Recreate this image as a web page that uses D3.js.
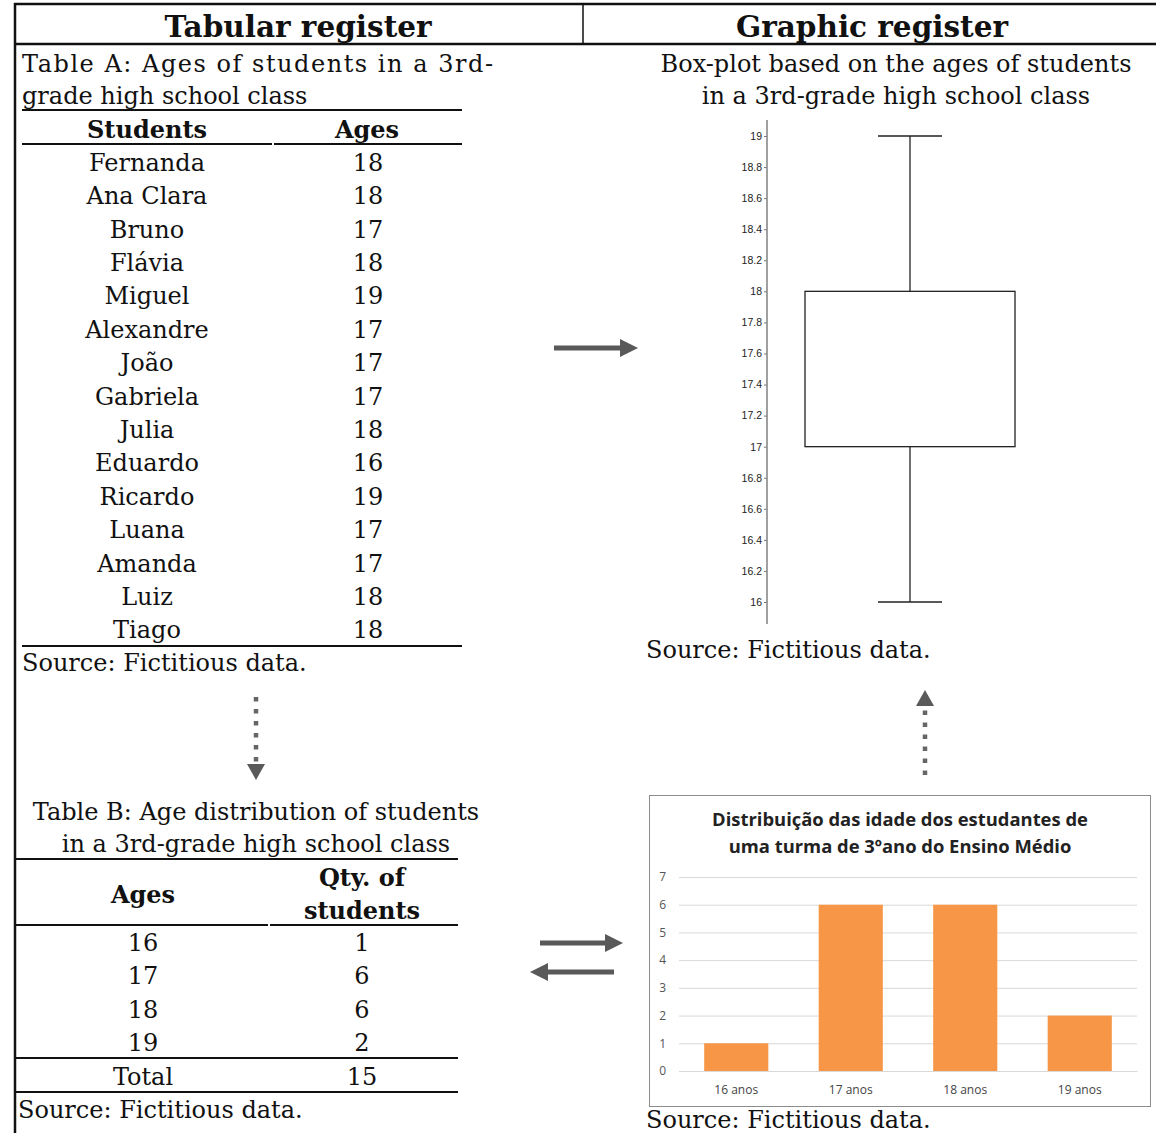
<!DOCTYPE html>
<html>
<head>
<meta charset="utf-8">
<script src="https://cdn.jsdelivr.net/npm/d3@7/dist/d3.min.js"></script>
<style>
  html, body { margin: 0; padding: 0; background: #fff; }
  svg { display: block; }
</style>
</head>
<body>
<script>
// ---------- DATA ----------
const students = ["Fernanda","Ana Clara","Bruno","Flávia","Miguel","Alexandre","João","Gabriela","Julia","Eduardo","Ricardo","Luana","Amanda","Luiz","Tiago"];
const studentAges = [18,18,17,18,19,17,17,17,18,16,19,17,17,18,18];
const distAges = [16,17,18,19];
const distCounts = [1,6,6,2];
const distTotal = 15;
const barCategories = ["16 anos","17 anos","18 anos","19 anos"];
const barValues = [1,6,6,2];
const barTicks = [0,1,2,3,4,5,6,7];
const boxTicks = [16,16.2,16.4,16.6,16.8,17,17.2,17.4,17.6,17.8,18,18.2,18.4,18.6,18.8,19];

const W = 1156, H = 1133;
const SERIF = "'DejaVu Serif', serif";
const fs = 24;
const svg = d3.select("body").append("svg").attr("width", W).attr("height", H);

function txt(x, y, s, opts = {}) {
  const t = svg.append("text").attr("x", x).attr("y", y).text(s)
    .attr("font-family", opts.family || SERIF)
    .attr("font-size", opts.size || fs)
    .attr("font-weight", opts.bold ? "bold" : "normal")
    .attr("text-anchor", opts.anchor || "start")
    .attr("fill", opts.fill || "#111");
  if (opts.len) t.attr("textLength", opts.len).attr("lengthAdjust", "spacing");
  return t;
}
function hline(x1, x2, y, w = 2, c = "#111") {
  svg.append("line").attr("x1", x1).attr("x2", x2).attr("y1", y).attr("y2", y)
    .attr("stroke", c).attr("stroke-width", w);
}
function vline(x, y1, y2, w = 2, c = "#111") {
  svg.append("line").attr("x1", x).attr("x2", x).attr("y1", y1).attr("y2", y2)
    .attr("stroke", c).attr("stroke-width", w);
}

// ---------- Frame ----------
hline(14, W, 4, 2.5);
hline(14, W, 44, 2.5);
vline(15, 3, H, 2.5);
vline(583, 3, 44, 1.5);
txt(298, 37, "Tabular register", {bold: true, size: 29.5, anchor: "middle"});
txt(872, 37, "Graphic register", {bold: true, size: 29.5, anchor: "middle"});

// ---------- Table A ----------
txt(22, 72, "Table A: Ages of students in a 3rd-", {len: 471});
txt(22, 104, "grade high school class");
hline(22, 462, 110, 1.8);
txt(147, 138, "Students", {bold: true, anchor: "middle"});
txt(367, 138, "Ages", {bold: true, anchor: "middle"});
hline(22, 272, 144, 1.8);
hline(274, 462, 144, 1.8);
const rowA = d3.scaleBand().domain(d3.range(students.length)).range([146, 647]);
students.forEach((s, i) => {
  const cy = rowA(i) + rowA.bandwidth() / 2;
  txt(147, cy + 8, s, {anchor: "middle"});
  txt(368, cy + 8, String(studentAges[i]), {anchor: "middle"});
});
hline(22, 462, 646, 1.8);
txt(22, 671, "Source: Fictitious data.");

// ---------- arrows ----------
const ARROW = "#595959";
function solidArrow(x1, x2, y) {
  const dir = x2 > x1 ? 1 : -1;
  const head = 18;
  svg.append("line").attr("x1", x1).attr("x2", x2 - dir * head).attr("y1", y).attr("y2", y)
    .attr("stroke", ARROW).attr("stroke-width", 5);
  svg.append("path").attr("d", `M${x2},${y} L${x2 - dir * head},${y - 9} L${x2 - dir * head},${y + 9} Z`).attr("fill", ARROW);
}
function dottedArrow(x, y1, y2) {
  const dir = y2 > y1 ? 1 : -1;
  const head = 16;
  svg.append("line").attr("x1", x).attr("x2", x).attr("y1", y1).attr("y2", y2 - dir * head)
    .attr("stroke", "#666").attr("stroke-width", 4.5).attr("stroke-dasharray", "4.5,7.5");
  svg.append("path").attr("d", `M${x},${y2} L${x - 9},${y2 - dir * head} L${x + 9},${y2 - dir * head} Z`).attr("fill", "#5a5a5a");
}
solidArrow(554, 638, 348);
solidArrow(540, 623, 943);
solidArrow(614, 530, 972);
dottedArrow(256, 697, 780);
dottedArrow(925, 775, 690);

// ---------- Box plot ----------
txt(896, 72, "Box-plot based on the ages of students", {anchor: "middle"});
txt(896, 104, "in a 3rd-grade high school class", {anchor: "middle"});
const by = d3.scaleLinear().domain([16, 19]).range([602, 136]);
const axisG = svg.append("g").attr("transform", "translate(767,0)")
  .call(d3.axisLeft(by).tickValues(boxTicks).tickSize(3).tickSizeOuter(0).tickFormat(d => d3.format("~g")(+d.toFixed(1))));
axisG.select(".domain").remove();
axisG.selectAll(".tick line").attr("stroke", "#777");
axisG.selectAll("text").attr("font-family", "'Liberation Sans', Arial, sans-serif").attr("font-size", 10.5).attr("fill", "#222").attr("dx", 1);
vline(767, 120, 624, 1.6, "#888");
const sorted = studentAges.slice().sort(d3.ascending);
const q1 = d3.quantile(sorted, 0.25), q3 = d3.quantile(sorted, 0.75);
const mn = d3.min(sorted), mx = d3.max(sorted);
const bx0 = 805, bx1 = 1015, bxm = 910, capw = 32;
svg.append("rect").attr("x", bx0).attr("y", by(q3)).attr("width", bx1 - bx0).attr("height", by(q1) - by(q3))
  .attr("fill", "none").attr("stroke", "#222").attr("stroke-width", 1.3);
vline(bxm, by(mx), by(q3), 1.3, "#222");
vline(bxm, by(q1), by(mn), 1.3, "#222");
hline(bxm - capw, bxm + capw, by(mx), 1.3, "#222");
hline(bxm - capw, bxm + capw, by(mn), 1.3, "#222");
txt(646, 658, "Source: Fictitious data.");

// ---------- Table B ----------
txt(256, 820, "Table B: Age distribution of students", {anchor: "middle"});
txt(256, 852, "in a 3rd-grade high school class", {anchor: "middle"});
hline(15, 458, 859, 1.8);
txt(143, 903, "Ages", {bold: true, anchor: "middle"});
txt(362, 886, "Qty. of", {bold: true, anchor: "middle"});
txt(362, 919, "students", {bold: true, anchor: "middle"});
hline(15, 268, 925, 1.8);
hline(270, 458, 925, 1.8);
const rowB = d3.scaleBand().domain(d3.range(distAges.length)).range([926, 1060]);
distAges.forEach((a, i) => {
  const cy = rowB(i) + rowB.bandwidth() / 2;
  txt(143, cy + 8, String(a), {anchor: "middle"});
  txt(362, cy + 8, String(distCounts[i]), {anchor: "middle"});
});
hline(15, 458, 1058, 1.8);
txt(143, 1085, "Total", {anchor: "middle"});
txt(362, 1085, String(distTotal), {anchor: "middle"});
hline(15, 458, 1092, 1.8);
txt(18, 1118, "Source: Fictitious data.");

// ---------- Bar chart ----------
svg.append("rect").attr("x", 649.5).attr("y", 795.5).attr("width", 501).attr("height", 311)
  .attr("fill", "#fff").attr("stroke", "#8c8c8c").attr("stroke-width", 1);
const SANS = "'Open Sans', 'Noto Sans', sans-serif";
txt(900, 826, "Distribuição das idade dos estudantes de", {family: SANS, bold: true, size: 18.4, anchor: "middle", fill: "#222"});
txt(900, 853, "uma turma de 3ºano do Ensino Médio", {family: SANS, bold: true, size: 18.4, anchor: "middle", fill: "#222"});
const xb = d3.scaleBand().domain(barCategories).range([679, 1137]).paddingInner(0.44).paddingOuter(0.22);
const yb = d3.scaleLinear().domain([0, 7]).range([1071, 877]);
const gy = svg.append("g").attr("transform", "translate(679,0)")
  .call(d3.axisLeft(yb).tickValues(barTicks).tickSize(-458).tickPadding(13).tickFormat(d3.format("d")));
gy.select(".domain").remove();
gy.selectAll(".tick line").attr("stroke", "#d9d9d9").attr("stroke-width", 1);
gy.selectAll("text").attr("font-family", SANS).attr("font-size", 12).attr("fill", "#555");
svg.selectAll("rect.bar").data(barValues).enter().append("rect").attr("class", "bar")
  .attr("x", (d, i) => xb(barCategories[i])).attr("y", d => yb(d))
  .attr("width", xb.bandwidth()).attr("height", d => yb(0) - yb(d))
  .attr("fill", "#F79646");
const gx = svg.append("g").attr("transform", "translate(0,1071)")
  .call(d3.axisBottom(xb).tickSize(0).tickPadding(14));
gx.select(".domain").attr("stroke", "#d9d9d9");
gx.selectAll("text").attr("font-family", SANS).attr("font-size", 12).attr("fill", "#444");
txt(646, 1128, "Source: Fictitious data.");
</script>
</body>
</html>
